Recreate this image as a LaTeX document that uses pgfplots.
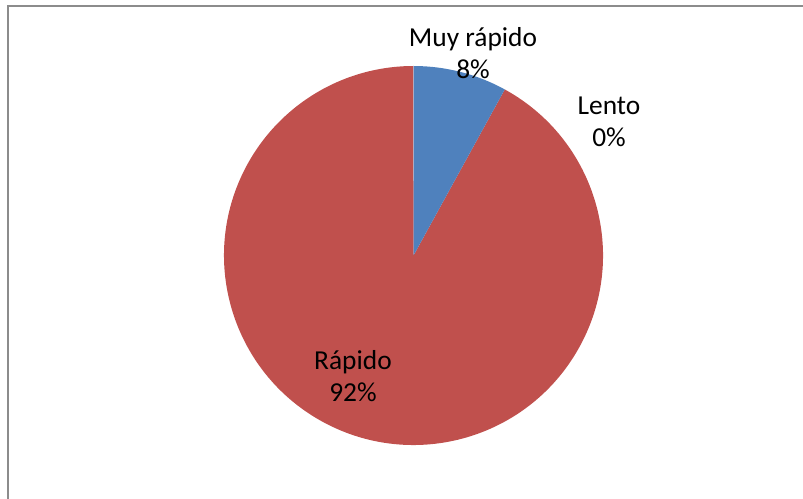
\documentclass[border=0pt]{standalone}
\usepackage{pgfplots}
\usepackage{pgfplotstable}
\pgfplotsset{compat=1.18}
\usepackage{fontspec}
\setmainfont{Carlito}
\definecolor{cblue}{HTML}{4F81BD}
\definecolor{cred}{HTML}{C0504D}
\definecolor{cgreen}{HTML}{9BBB59}
\definecolor{cborder}{HTML}{8C8C8C}

\pgfplotstableread{
label value
MuyRapido 8
Lento 0
Rapido 92
}\datatable

\begin{document}%
\begin{tikzpicture}
\pgfplotstablegetelem{0}{value}\of\datatable \global\let\va\pgfplotsretval
\pgfplotstablegetelem{1}{value}\of\datatable \global\let\vb\pgfplotsretval
\pgfplotstablegetelem{2}{value}\of\datatable \global\let\vc\pgfplotsretval
\pgfmathsetmacro\total{\va+\vb+\vc}
\pgfmathsetmacro\aA{90-360*(\va/\total)}
\pgfmathsetmacro\aB{\aA-360*(\vb/\total)}
\pgfmathsetmacro\aC{\aB-360*(\vc/\total)}
\pgfmathsetmacro\pa{round(100*(\va/\total))}
\pgfmathsetmacro\pb{round(100*(\vb/\total))}
\pgfmathsetmacro\pc{round(100*(\vc/\total))}
\begin{axis}[
  scale only axis, width=803bp, height=499bp,
  xmin=0, xmax=803, ymin=0, ymax=499,
  hide axis, clip=false,
]
\addplot[draw=none] coordinates {(0,0) (803,499)};
\coordinate (SW) at (axis cs:0,0);
\coordinate (NE) at (axis cs:803,499);
\fill[cred] (axis cs:413.5,243.5) -- ++(\aB:189.5bp) arc[start angle=\aB, end angle=\aC, radius=189.5bp] -- cycle;
\fill[cblue] (axis cs:413.5,243.5) -- ++(90:189.5bp) arc[start angle=90, end angle=\aA, radius=189.5bp] -- cycle;
\draw[cborder, line width=1.5bp] (axis cs:8,0) -- (axis cs:8,493) -- (axis cs:803,493);
\node[align=center, font=\fontsize{27.5}{31.5}\selectfont, inner sep=0pt] at (axis cs:473,446) {Muy rápido\\\pgfmathprintnumber[fixed,precision=0,assume math mode=true]{\pa}\%};
\node[align=center, font=\fontsize{27.5}{31.5}\selectfont, inner sep=0pt] at (axis cs:609,377) {Lento\\\pgfmathprintnumber[fixed,precision=0,assume math mode=true]{\pb}\%};
\node[align=center, font=\fontsize{27.5}{31.5}\selectfont, inner sep=0pt] at (axis cs:353,123) {Rápido\\\pgfmathprintnumber[fixed,precision=0,assume math mode=true]{\pc}\%};
\end{axis}
\pgfresetboundingbox
\useasboundingbox (SW) rectangle (NE);
\end{tikzpicture}%
\end{document}
